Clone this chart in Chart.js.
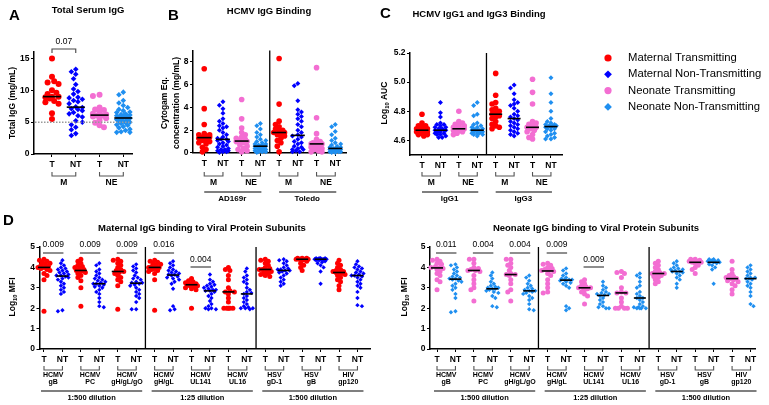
<!DOCTYPE html>
<html>
<head>
<meta charset="utf-8">
<title>IgG binding</title>
<script src="https://cdn.jsdelivr.net/npm/chart.js@4.4.1/dist/chart.umd.min.js"></script>
<style>
html,body{margin:0;padding:0;background:#fff;}
#wrap{position:relative;width:769px;height:405px;overflow:hidden;background:#fff;}
#wrap canvas{position:absolute;left:0;top:0;}
</style>
</head>
<body>
<div id="wrap">
<canvas id="cA" width="769" height="405"></canvas>
<canvas id="cB" width="769" height="405"></canvas>
<canvas id="cC" width="769" height="405"></canvas>
<canvas id="cDm" width="769" height="405"></canvas>
<canvas id="cDn" width="769" height="405"></canvas>
</div>
<script>
// ---------------- DATA ----------------
// Panel A: Total serum IgG (mg/mL)
const A_cats = ['T','NT','T','NT'];
const A_groups = ['M','NE'];
const A_yticks = [0,5,10,15];
const A_MT = [15, 12.1, 11.4, 11.2, 11.0, 10.0, 9.6, 9.4, 9.0, 9.0, 8.9, 8.7, 8.3, 8.1, 7.9, 6.4, 5.5];
const A_MNT = [13.3, 12.9, 12.5, 11.8, 10.9, 10.2, 9.8, 9.4, 8.9, 8.8, 8.6, 8.4, 8.2, 7.9, 7.4, 7.3, 7.1, 7.0, 6.8, 6.5, 6.3, 6.0, 5.8, 5.2, 5.0, 4.6, 4.2, 3.8, 3.2, 2.9];
const A_NeT = [9.3, 9.1, 7.3, 7.0, 6.9, 6.5, 6.3, 6.2, 6.0, 6.0, 5.9, 5.6, 5.3, 4.9, 4.5, 4.2];
const A_NeNT = [9.7, 9.3, 8.4, 8.0, 7.6, 7.3, 7.0, 6.8, 6.6, 6.5, 6.3, 6.2, 6.1, 6.0, 5.9, 5.9, 5.8, 5.7, 5.6, 5.5, 5.4, 5.3, 5.2, 5.1, 5.0, 4.9, 4.8, 4.6, 4.5, 4.3, 4.1, 3.9, 3.7, 3.5, 3.4, 3.4];
const A_pvalue = '0.07';

// Panel B: HCMV IgG binding (Cytogam Eq. mg/mL)
const B_cats = ['T','NT','T','NT','T','NT','T','NT'];
const B_groups = ['M','NE','M','NE'];
const B_strains = ['AD169r','Toledo'];
const B_yticks = [0,2,4,6,8];
const B_AD169r_MT = [7.4, 3.9, 2.5, 1.7, 1.6, 1.6, 1.5, 1.4, 1.4, 1.3, 1.2, 1.1, 1.0, 0.9, 0.8, 0.5, 0.3, 0.1];
const B_AD169r_MNT = [4.5, 4.2, 3.9, 3.5, 3.0, 2.8, 2.6, 2.4, 2.3, 2.2, 2.0, 1.8, 1.6, 1.4, 1.3, 1.2, 1.2, 1.1, 1.0, 0.9, 0.8, 0.7, 0.6, 0.5, 0.4, 0.3, 0.3, 0.2, 0.2, 0.1, 0.1, 0.05];
const B_AD169r_NeT = [4.7, 3.0, 2.2, 1.8, 1.6, 1.4, 1.3, 1.2, 1.1, 1.0, 1.0, 0.9, 0.7, 0.6, 0.4, 0.3, 0.2, 0.1];
const B_AD169r_NeNT = [2.6, 2.4, 2.1, 1.8, 1.6, 1.4, 1.2, 1.1, 1.0, 0.9, 0.8, 0.8, 0.7, 0.7, 0.6, 0.6, 0.6, 0.5, 0.5, 0.5, 0.4, 0.4, 0.3, 0.3, 0.3, 0.2, 0.2, 0.2, 0.1, 0.1, 0.1, 0.05];
const B_Toledo_MT = [8.3, 4.3, 2.8, 2.5, 2.3, 2.1, 2.0, 1.9, 1.8, 1.8, 1.7, 1.6, 1.5, 1.3, 1.1, 0.9, 0.6, 0.1];
const B_Toledo_MNT = [6.1, 5.9, 4.6, 3.8, 3.6, 3.4, 3.2, 3.0, 2.8, 2.5, 2.3, 2.0, 1.8, 1.6, 1.5, 1.4, 1.2, 1.0, 0.9, 0.8, 0.6, 0.5, 0.4, 0.3, 0.3, 0.2, 0.1, 0.1];
const B_Toledo_NeT = [7.5, 3.1, 1.7, 1.2, 1.0, 0.9, 0.9, 0.8, 0.8, 0.7, 0.6, 0.5, 0.4, 0.3, 0.2, 0.1, 0.1];
const B_Toledo_NeNT = [2.5, 2.3, 1.9, 1.6, 1.3, 1.1, 0.9, 0.8, 0.7, 0.6, 0.5, 0.5, 0.4, 0.4, 0.4, 0.3, 0.3, 0.3, 0.3, 0.2, 0.2, 0.2, 0.1, 0.1, 0.1, 0.05, 0.05];

// Panel C: HCMV IgG1 / IgG3 binding (log10 AUC)
const C_cats = ['T','NT','T','NT','T','NT','T','NT'];
const C_groups = ['M','NE','M','NE'];
const C_subclasses = ['IgG1','IgG3'];
const C_yticks = [4.6, 4.8, 5.0, 5.2];
const C_IgG1_MT = [4.78, 4.72, 4.70, 4.70, 4.69, 4.68, 4.68, 4.67, 4.67, 4.66, 4.66, 4.65, 4.65, 4.64, 4.64, 4.63];
const C_IgG1_MNT = [4.86, 4.79, 4.76, 4.72, 4.71, 4.71, 4.70, 4.69, 4.69, 4.68, 4.68, 4.68, 4.67, 4.67, 4.67, 4.66, 4.66, 4.66, 4.65, 4.65, 4.64, 4.64, 4.63, 4.62, 4.62];
const C_IgG1_NeT = [4.80, 4.73, 4.72, 4.71, 4.70, 4.70, 4.69, 4.68, 4.68, 4.68, 4.67, 4.67, 4.66, 4.65, 4.64];
const C_IgG1_NeNT = [4.86, 4.84, 4.78, 4.77, 4.72, 4.71, 4.70, 4.69, 4.69, 4.68, 4.68, 4.67, 4.67, 4.67, 4.67, 4.66, 4.66, 4.66, 4.65, 4.65, 4.65, 4.64, 4.64, 4.63];
const C_IgG3_MT = [5.06, 4.91, 4.86, 4.85, 4.82, 4.81, 4.80, 4.79, 4.78, 4.77, 4.76, 4.75, 4.73, 4.71, 4.70, 4.69, 4.68];
const C_IgG3_MNT = [4.98, 4.96, 4.92, 4.88, 4.86, 4.85, 4.84, 4.82, 4.80, 4.78, 4.77, 4.76, 4.75, 4.74, 4.73, 4.72, 4.71, 4.70, 4.69, 4.68, 4.67, 4.66, 4.65, 4.64, 4.63];
const C_IgG3_NeT = [5.02, 4.93, 4.85, 4.73, 4.72, 4.71, 4.70, 4.69, 4.69, 4.68, 4.67, 4.66, 4.64, 4.62, 4.61];
const C_IgG3_NeNT = [5.03, 4.92, 4.86, 4.80, 4.75, 4.73, 4.72, 4.71, 4.71, 4.70, 4.70, 4.70, 4.69, 4.69, 4.68, 4.68, 4.67, 4.66, 4.65, 4.64, 4.63, 4.62, 4.61, 4.61];

// Legend
const LEGEND_KEYS = ['MT','MNT','NeT','NeNT'];
const LEGEND_LABELS = ['Maternal Transmitting','Maternal Non-Transmitting','Neonate Transmitting','Neonate Non-Transmitting'];

// Panel D: IgG binding to viral protein subunits (log10 MFI)
const D_cats = ['T','NT','T','NT','T','NT','T','NT','T','NT','T','NT','T','NT','T','NT','T','NT'];
const D_yticks = [0,1,2,3,4,5];
const D_antigens = [['HCMV','gB'],['HCMV','PC'],['HCMV','gH/gL/gO'],['HCMV','gH/gL'],['HCMV','UL141'],['HCMV','UL16'],['HSV','gD-1'],['HSV','gB'],['HIV','gp120']];
const D_dilutions = ['1:500 dilution','1:25 dilution','1:500 dilution'];
const D_mat_pvalues = ['0.009','0.009','0.009','0.016','0.004'];
const D_neo_pvalues = ['0.011','0.004','0.004','0.009','0.009'];
const D_mat_T = [
  [4.4, 4.35, 4.3, 4.25, 4.2, 4.15, 4.1, 4.05, 4.0, 4.0, 3.95, 3.9, 3.85, 3.7, 3.6, 3.4, 1.85],
  [4.4, 4.3, 4.2, 4.1, 4.05, 4.0, 3.95, 3.9, 3.85, 3.8, 3.75, 3.7, 3.6, 3.5, 3.35, 3.0, 2.1],
  [4.4, 4.35, 4.3, 4.2, 4.1, 4.0, 3.9, 3.85, 3.8, 3.75, 3.7, 3.6, 3.5, 3.4, 3.3, 3.1, 1.95],
  [4.35, 4.3, 4.25, 4.2, 4.15, 4.1, 4.05, 4.0, 4.0, 3.95, 3.9, 3.85, 3.8, 3.7, 3.4, 1.9],
  [3.45, 3.35, 3.3, 3.25, 3.2, 3.2, 3.15, 3.15, 3.1, 3.1, 3.05, 3.0, 2.95, 2.9, 2.0],
  [4.0, 3.9, 3.85, 3.6, 3.4, 3.0, 2.85, 2.8, 2.8, 2.7, 2.5, 2.3, 2.0, 2.0, 2.0, 2.0, 2.0],
  [4.4, 4.35, 4.3, 4.2, 4.1, 4.0, 3.95, 3.9, 3.9, 3.85, 3.8, 3.75, 3.7, 3.65, 3.6, 3.55],
  [4.45, 4.45, 4.45, 4.4, 4.4, 4.4, 4.4, 4.4, 4.4, 4.35, 4.3, 4.2, 4.1, 4.0, 3.85],
  [4.35, 4.2, 4.1, 4.0, 3.9, 3.85, 3.8, 3.8, 3.75, 3.75, 3.7, 3.65, 3.6, 3.5, 3.4, 3.3, 3.1, 2.9]
];
const D_mat_NT = [
  [4.35, 4.2, 4.1, 4.0, 3.95, 3.9, 3.85, 3.8, 3.75, 3.7, 3.65, 3.6, 3.6, 3.55, 3.5, 3.45, 3.4, 3.3, 3.2, 3.1, 3.0, 2.9, 2.8, 2.7, 1.9, 1.85],
  [4.2, 4.1, 3.9, 3.8, 3.7, 3.6, 3.5, 3.45, 3.4, 3.35, 3.3, 3.25, 3.2, 3.2, 3.15, 3.1, 3.05, 3.0, 2.9, 2.8, 2.7, 2.5, 2.3, 2.1, 2.05],
  [4.15, 4.05, 3.95, 3.85, 3.75, 3.6, 3.5, 3.45, 3.4, 3.3, 3.25, 3.25, 3.2, 3.15, 3.1, 3.0, 2.9, 2.8, 2.7, 2.6, 2.5, 2.3, 1.95, 1.95],
  [4.3, 4.2, 4.1, 4.0, 3.9, 3.85, 3.8, 3.75, 3.7, 3.65, 3.65, 3.6, 3.55, 3.5, 3.45, 3.4, 3.3, 3.2, 2.95, 2.1, 1.95, 1.9],
  [3.65, 3.4, 3.3, 3.2, 3.15, 3.1, 3.05, 3.0, 2.95, 2.9, 2.9, 2.85, 2.85, 2.8, 2.7, 2.6, 2.5, 2.35, 2.2, 2.1, 2.0, 2.0, 1.95, 1.95],
  [3.95, 3.8, 3.6, 3.5, 3.4, 3.3, 3.2, 3.0, 2.9, 2.8, 2.75, 2.7, 2.6, 2.5, 2.4, 2.3, 2.2, 2.1, 2.05, 2.0, 2.0, 2.0, 1.95],
  [4.4, 4.35, 4.3, 4.2, 4.1, 4.0, 3.95, 3.9, 3.9, 3.85, 3.85, 3.8, 3.75, 3.7, 3.6, 3.5, 3.4, 3.3, 3.2, 3.1],
  [4.45, 4.45, 4.45, 4.45, 4.4, 4.4, 4.4, 4.4, 4.4, 4.4, 4.35, 4.35, 4.3, 4.25, 4.2, 4.1, 4.0, 3.8, 3.2],
  [4.3, 4.15, 4.05, 4.0, 3.95, 3.9, 3.8, 3.75, 3.7, 3.65, 3.6, 3.6, 3.55, 3.5, 3.4, 3.3, 3.2, 3.1, 3.0, 2.8, 2.5, 2.15, 2.1]
];
const D_neo_T = [
  [4.4, 4.35, 4.3, 4.2, 4.15, 4.05, 4.0, 4.0, 3.95, 3.9, 3.8, 3.7, 3.6, 3.4, 3.3, 2.9],
  [4.4, 4.4, 4.2, 4.0, 3.95, 3.9, 3.85, 3.85, 3.8, 3.6, 3.4, 3.2, 3.0, 2.9, 2.35],
  [4.4, 4.4, 4.2, 4.1, 4.0, 3.85, 3.7, 3.65, 3.65, 3.6, 3.4, 3.2, 2.9, 2.8, 2.35],
  [4.2, 4.15, 4.1, 4.0, 3.95, 3.9, 3.85, 3.85, 3.8, 3.7, 3.6, 3.4, 3.2, 3.0, 2.8, 2.75],
  [3.4, 3.3, 3.2, 3.1, 3.05, 3.0, 3.0, 3.0, 2.95, 2.9, 2.8, 2.7, 2.6, 2.2],
  [3.8, 3.75, 3.7, 3.5, 3.0, 2.8, 2.75, 2.75, 2.5, 2.3, 2.1, 2.0, 2.0, 2.0, 2.0],
  [4.3, 4.2, 4.1, 4.0, 3.9, 3.8, 3.75, 3.7, 3.7, 3.65, 3.6, 3.55, 3.5, 3.4, 3.3, 3.2],
  [4.4, 4.4, 4.35, 4.35, 4.3, 4.3, 4.25, 4.25, 4.2, 4.1, 4.0, 3.9, 3.7],
  [4.3, 3.9, 3.7, 3.6, 3.55, 3.5, 3.45, 3.45, 3.4, 3.35, 3.3, 3.2, 3.1, 2.9, 2.7]
];
const D_neo_NT = [
  [4.15, 4.1, 4.0, 3.9, 3.8, 3.7, 3.6, 3.55, 3.5, 3.45, 3.45, 3.4, 3.35, 3.3, 3.2, 3.1, 3.0, 2.9, 2.7, 2.5, 1.85, 1.8],
  [3.75, 3.6, 3.45, 3.3, 3.2, 3.1, 3.05, 3.0, 3.0, 2.95, 2.95, 2.9, 2.85, 2.8, 2.75, 2.6, 2.5, 2.1, 2.05],
  [3.6, 3.5, 3.35, 3.2, 3.1, 3.0, 2.95, 2.9, 2.85, 2.85, 2.8, 2.75, 2.7, 2.6, 2.5, 2.4, 2.2, 1.95, 1.9],
  [3.95, 3.85, 3.7, 3.6, 3.5, 3.45, 3.4, 3.4, 3.4, 3.35, 3.3, 3.25, 3.2, 3.1, 3.0, 2.1, 2.0, 1.9],
  [3.3, 3.1, 3.0, 2.9, 2.8, 2.75, 2.7, 2.7, 2.65, 2.6, 2.5, 2.4, 2.3, 2.2, 2.1, 2.05, 2.0, 2.0],
  [3.7, 3.6, 3.5, 3.3, 3.1, 3.0, 2.8, 2.7, 2.6, 2.5, 2.5, 2.4, 2.3, 2.2, 2.1, 2.05, 2.05, 2.0, 2.0, 2.0, 2.0],
  [4.3, 4.2, 4.1, 4.0, 3.95, 3.9, 3.9, 3.85, 3.8, 3.8, 3.75, 3.7, 3.6, 3.5, 3.4, 3.2, 3.0],
  [4.4, 4.4, 4.35, 4.35, 4.3, 4.3, 4.3, 4.25, 4.25, 4.2, 4.15, 4.1, 4.0, 3.9, 3.2],
  [4.1, 4.0, 3.9, 3.8, 3.7, 3.6, 3.5, 3.5, 3.45, 3.45, 3.4, 3.3, 3.2, 3.1, 3.0, 2.8, 2.6, 2.2, 2.1]
];

// ---------------- STYLE / LAYOUT ----------------
const W = 769, H = 405, YW = 20, XH = 14;
const FAM = '"Liberation Sans", Arial, Helvetica, sans-serif';
Chart.defaults.font.family = FAM;
const SERIES = {
  MT:   {color:'#ff0000', style:'circle'},
  MNT:  {color:'#0000ff', style:'rectRot'},
  NeT:  {color:'#f36ed2', style:'circle'},
  NeNT: {color:'#1f8ff0', style:'rectRot'}
};

function font(size, bold){ return (bold ? 'bold ' : '') + size + 'px ' + FAM; }
function median(arr){ const s = [...arr].sort((a,b)=>a-b); const n = s.length; return n % 2 ? s[(n-1)/2] : (s[n/2-1] + s[n/2]) / 2; }
function txt(ctx, s, x, y, size, bold, align){
  ctx.font = font(size, bold); ctx.fillStyle = '#000';
  ctx.textAlign = align || 'center'; ctx.textBaseline = 'middle';
  ctx.fillText(s, x, y);
}
function seg(ctx, x1, y1, x2, y2, color, w, dash){
  ctx.save(); ctx.beginPath(); ctx.strokeStyle = color; ctx.lineWidth = w;
  ctx.setLineDash(dash || []); ctx.moveTo(x1, y1); ctx.lineTo(x2, y2); ctx.stroke(); ctx.restore();
}
function underBracket(ctx, x1, x2, yTop, yBot){
  ctx.save(); ctx.beginPath(); ctx.strokeStyle = '#555'; ctx.lineWidth = 1.1;
  ctx.moveTo(x1, yTop); ctx.lineTo(x1, yBot); ctx.lineTo(x2, yBot); ctx.lineTo(x2, yTop); ctx.stroke(); ctx.restore();
}
function rotText(ctx, parts, x, y, size, bold){
  ctx.save(); ctx.translate(x, y); ctx.rotate(-Math.PI/2);
  ctx.textBaseline = 'middle'; ctx.textAlign = 'left'; ctx.fillStyle = '#000';
  const fN = font(size, bold), fS = font(size*0.68, bold);
  let total = 0; const ws = [];
  parts.forEach(pt => { ctx.font = pt.sub ? fS : fN; const w = ctx.measureText(pt.t).width; ws.push(w); total += w; });
  let cx = -total/2;
  parts.forEach((pt,i) => { ctx.font = pt.sub ? fS : fN; ctx.fillText(pt.t, cx, pt.sub ? size*0.32 : 0); cx += ws[i]; });
  ctx.restore();
}
function marker(ctx, style, x, y, r, color){
  ctx.save(); ctx.fillStyle = color; ctx.beginPath();
  if (style === 'circle') ctx.arc(x, y, r, 0, Math.PI*2);
  else { ctx.moveTo(x, y-r); ctx.lineTo(x+r, y); ctx.lineTo(x, y+r); ctx.lineTo(x-r, y); ctx.closePath(); }
  ctx.fill(); ctx.restore();
}

// deterministic beeswarm layout in pixel space
function swarm(chart, groups, p){
  const xs = chart.scales.x, ys = chart.scales.y;
  groups.forEach((g, gi) => {
    const ds = chart.data.datasets[gi];
    const cx = xs.getPixelForValue(g.pos);
    const order = g.values.map((v,i)=>i).sort((a,b)=>g.values[b]-g.values[a]);
    const placed = []; const out = new Array(g.values.length);
    order.forEach((i, n) => {
      const py = ys.getPixelForValue(g.values[i]);
      let bestOff = 0, bestScore = -1, done = false;
      for (let k = 0; k * p.step <= p.half + 0.01 && !done; k++) {
        const sgn = n % 2 ? -1 : 1;
        const cands = k === 0 ? [0] : [sgn*k*p.step, -sgn*k*p.step];
        for (const off of cands) {
          let md = Infinity;
          for (const q of placed) { const d = Math.hypot(off - q.o, py - q.y); if (d < md) md = d; }
          if (md >= p.minD) { bestOff = off; done = true; break; }
          if (md > bestScore) { bestScore = md; bestOff = off; }
        }
      }
      placed.push({o: bestOff, y: py});
      out[i] = {x: xs.getValueForPixel(cx + bestOff), y: g.values[i]};
    });
    ds.data = out;
  });
  chart.update('none');
}

function buildPanel(id, p){
  const groups = p.groups;
  const datasets = groups.map(g => ({
    data: g.values.map(v => ({x: g.pos, y: v})),
    pointStyle: SERIES[g.series].style,
    backgroundColor: SERIES[g.series].color,
    borderColor: SERIES[g.series].color,
    pointBorderWidth: 0,
    pointRadius: SERIES[g.series].style === 'circle' ? p.rC : p.rD,
    pointHoverRadius: 0,
    showLine: false,
    clip: false
  }));
  const axisCommon = {
    grid: {display: true, drawOnChartArea: false, drawTicks: true, tickLength: 3, color: '#000', lineWidth: 1},
    border: {display: true, color: '#000', width: 1.5}
  };
  const deco = {
    id: 'deco_' + id,
    afterDatasetsDraw(chart){
      const ctx = chart.ctx;
      const X = v => chart.scales.x.getPixelForValue(v), Y = v => chart.scales.y.getPixelForValue(v);
      groups.forEach(g => {
        const m = median(g.values);
        seg(ctx, X(g.pos) - p.medHalf, Y(m), X(g.pos) + p.medHalf, Y(m), '#000', 1.6);
      });
    },
    afterDraw(chart){
      const ctx = chart.ctx;
      const X = v => chart.scales.x.getPixelForValue(v), Y = v => chart.scales.y.getPixelForValue(v);
      p.decorate(ctx, X, Y, chart.chartArea);
    }
  };
  const chart = new Chart(document.getElementById(id), {
    type: 'scatter',
    data: {datasets},
    options: {
      responsive: false, animation: false, devicePixelRatio: 1, events: [],
      layout: {autoPadding: false, padding: {left: p.area.l - YW, top: p.area.t, right: W - p.area.r, bottom: H - p.area.b - XH}},
      plugins: {legend: {display: false}, tooltip: {enabled: false}},
      scales: {
        x: Object.assign({
          type: 'linear', position: 'bottom', min: p.xmin, max: p.xmax,
          afterFit(s){ s.height = XH; s.paddingLeft = 0; s.paddingRight = 0; s.paddingTop = 0; s.paddingBottom = 0; },
          afterBuildTicks(s){ s.ticks = p.cats.map((c, i) => ({value: i + 1})); },
          ticks: {callback: (v, i) => p.cats[i], autoSkip: false, maxRotation: 0, minRotation: 0, color: '#000', font: {size: 8.5, weight: 'bold'}, padding: 2.5}
        }, axisCommon),
        y: Object.assign({
          type: 'linear', position: 'left', min: p.ymin, max: p.ymax,
          afterFit(s){ s.width = YW; s.paddingTop = 0; s.paddingBottom = 0; s.paddingLeft = 0; s.paddingRight = 0; },
          afterBuildTicks(s){ s.ticks = p.yticks.map(v => ({value: v})); },
          ticks: {callback: v => p.yfmt ? p.yfmt(v) : String(v), autoSkip: false, color: '#000', font: {size: 8.5, weight: 'bold'}, padding: 1.5}
        }, axisCommon)
      }
    },
    plugins: [deco]
  });
  swarm(chart, groups, p);
  return chart;
}

// ---------------- PANEL A ----------------
buildPanel('cA', {
  area: {l: 34, t: 52, r: 132, b: 154},
  xmin: 0.243, xmax: 4.366, ymin: 0, ymax: 16, yticks: A_yticks, cats: A_cats,
  rC: 3, rD: 2.8, medHalf: 9, step: 2.2, half: 7.5, minD: 4.6,
  groups: [
    {pos: 1, series: 'MT', values: A_MT}, {pos: 2, series: 'MNT', values: A_MNT},
    {pos: 3, series: 'NeT', values: A_NeT}, {pos: 4, series: 'NeNT', values: A_NeNT}
  ],
  decorate(ctx, X, Y, a){
    txt(ctx, 'A', 9, 16, 15, true, 'left');
    txt(ctx, 'Total Serum IgG', 88, 10, 9.5, true);
    rotText(ctx, [{t: 'Total IgG (mg/mL)'}], 13, 103, 8.5, true);
    seg(ctx, a.left + 1, Y(5), a.right, Y(5), '#9a9a9a', 1.5, [1.5, 1.5]);
    ctx.save(); ctx.beginPath(); ctx.strokeStyle = '#444'; ctx.lineWidth = 1.1;
    ctx.moveTo(X(1), 53); ctx.lineTo(X(1), 49); ctx.lineTo(X(2), 49); ctx.lineTo(X(2), 53); ctx.stroke(); ctx.restore();
    txt(ctx, A_pvalue, (X(1) + X(2)) / 2, 42, 8.5, false);
    A_groups.forEach((gname, i) => {
      underBracket(ctx, X(2*i+1), X(2*i+2), 172, 176);
      txt(ctx, gname, (X(2*i+1) + X(2*i+2)) / 2, 183, 8.5, true);
    });
  }
});

// ---------------- PANEL B ----------------
buildPanel('cB', {
  area: {l: 193, t: 50.6, r: 346.5, b: 153},
  xmin: 0.4, xmax: 8.6, ymin: 0, ymax: 9, yticks: B_yticks, cats: B_cats,
  rC: 2.8, rD: 2.5, medHalf: 7, step: 1.8, half: 6.3, minD: 3.9,
  groups: [
    {pos: 1, series: 'MT', values: B_AD169r_MT}, {pos: 2, series: 'MNT', values: B_AD169r_MNT},
    {pos: 3, series: 'NeT', values: B_AD169r_NeT}, {pos: 4, series: 'NeNT', values: B_AD169r_NeNT},
    {pos: 5, series: 'MT', values: B_Toledo_MT}, {pos: 6, series: 'MNT', values: B_Toledo_MNT},
    {pos: 7, series: 'NeT', values: B_Toledo_NeT}, {pos: 8, series: 'NeNT', values: B_Toledo_NeNT}
  ],
  decorate(ctx, X, Y, a){
    txt(ctx, 'B', 168, 16, 15, true, 'left');
    txt(ctx, 'HCMV IgG Binding', 269, 11, 9.5, true);
    rotText(ctx, [{t: 'Cytogam Eq.'}], 165, 103, 8.5, true);
    rotText(ctx, [{t: 'concentration (mg/mL)'}], 177, 103, 8.5, true);
    seg(ctx, X(4.5), a.top, X(4.5), a.bottom, '#000', 1.3);
    B_groups.forEach((gname, i) => {
      underBracket(ctx, X(2*i+1), X(2*i+2), 172, 176);
      txt(ctx, gname, (X(2*i+1) + X(2*i+2)) / 2, 183, 8.5, true);
    });
    B_strains.forEach((s, i) => {
      seg(ctx, X(4*i+1), 192, X(4*i+4) + 1, 192, '#000', 1.1);
      txt(ctx, s, (X(4*i+1) + X(4*i+4)) / 2, 199, 8, true);
    });
  }
});

// ---------------- PANEL C ----------------
buildPanel('cC', {
  area: {l: 410, t: 53, r: 562, b: 155},
  xmin: 0.349, xmax: 8.6, ymin: 4.5, ymax: 5.2, yticks: C_yticks, yfmt: v => v.toFixed(1), cats: C_cats,
  rC: 2.8, rD: 2.5, medHalf: 6.5, step: 1.8, half: 6.3, minD: 3.7,
  groups: [
    {pos: 1, series: 'MT', values: C_IgG1_MT}, {pos: 2, series: 'MNT', values: C_IgG1_MNT},
    {pos: 3, series: 'NeT', values: C_IgG1_NeT}, {pos: 4, series: 'NeNT', values: C_IgG1_NeNT},
    {pos: 5, series: 'MT', values: C_IgG3_MT}, {pos: 6, series: 'MNT', values: C_IgG3_MNT},
    {pos: 7, series: 'NeT', values: C_IgG3_NeT}, {pos: 8, series: 'NeNT', values: C_IgG3_NeNT}
  ],
  decorate(ctx, X, Y, a){
    txt(ctx, 'C', 380, 14, 15, true, 'left');
    txt(ctx, 'HCMV IgG1 and IgG3 Binding', 479, 14, 9.5, true);
    rotText(ctx, [{t: 'Log'}, {t: '10', sub: true}, {t: ' AUC'}], 385, 103, 8.5, true);
    seg(ctx, X(4.5), a.top, X(4.5), a.bottom, '#000', 1.3);
    C_groups.forEach((gname, i) => {
      underBracket(ctx, X(2*i+1), X(2*i+2), 172, 176);
      txt(ctx, gname, (X(2*i+1) + X(2*i+2)) / 2, 183, 8.5, true);
    });
    C_subclasses.forEach((s, i) => {
      seg(ctx, X(4*i+1), 192, X(4*i+4) + 1, 192, '#000', 1.1);
      txt(ctx, s, (X(4*i+1) + X(4*i+4)) / 2, 199, 8, true);
    });
    LEGEND_KEYS.forEach((k, i) => {
      const y = 58 + i * 16.3;
      const s = SERIES[k];
      marker(ctx, s.style, 608, y, s.style === 'circle' ? 3.6 : 3.9, s.color);
      txt(ctx, LEGEND_LABELS[i], 628, y, 11.3, false, 'left');
    });
  }
});

// ---------------- PANEL D ----------------
function dGroups(tArr, ntArr, tKey, ntKey){
  const out = [];
  tArr.forEach((vals, g) => {
    out.push({pos: 2*g+1, series: tKey, values: vals});
    out.push({pos: 2*g+2, series: ntKey, values: ntArr[g]});
  });
  return out;
}
function dDecorate(title, titleX, yTitleX, pvals){
  return function(ctx, X, Y, a){
    txt(ctx, title, titleX, 228, 9.5, true);
    rotText(ctx, [{t: 'Log'}, {t: '10', sub: true}, {t: ' MFI'}], yTitleX, 297, 8.5, true);
    seg(ctx, X(6.5), a.top, X(6.5), a.bottom, '#000', 1.3);
    seg(ctx, X(12.5), a.top, X(12.5), a.bottom, '#000', 1.3);
    pvals.forEach((pv, g) => {
      const row = g === 4 ? 1 : 0;
      const ly = row ? 267 : 253, ty = row ? 259.5 : 245;
      const x1 = X(2*g+1) - 1, x2 = X(2*g+2) + 1;
      seg(ctx, x1, ly, x2, ly, '#444', 1.2);
      txt(ctx, pv, (x1 + x2) / 2, ty, 8.5, false);
    });
    D_antigens.forEach((lab, g) => {
      const x1 = X(2*g+1), x2 = X(2*g+2), cx = (x1 + x2) / 2;
      underBracket(ctx, x1, x2, 366, 370);
      txt(ctx, lab[0], cx, 375.5, 7, true);
      txt(ctx, lab[1], cx, 382.5, 7, true);
    });
    D_dilutions.forEach((d, i) => {
      const x1 = X(6*i+1) - 3, x2 = X(6*i+6) + 6;
      seg(ctx, x1, 391, x2, 391, '#000', 1.1);
      txt(ctx, d, (x1 + x2) / 2, 398, 7.5, true);
    });
  };
}

buildPanel('cDm', {
  area: {l: 39.5, t: 247, r: 370, b: 349},
  xmin: 0.756, xmax: 18.68, ymin: 0, ymax: 5, yticks: D_yticks, cats: D_cats,
  rC: 2.5, rD: 2.2, medHalf: 6, step: 1.5, half: 6, minD: 3.4,
  groups: dGroups(D_mat_T, D_mat_NT, 'MT', 'MNT'),
  decorate: (function(){
    const f = dDecorate('Maternal IgG binding to Viral Protein Subunits', 202, 13, D_mat_pvalues);
    return function(ctx, X, Y, a){ txt(ctx, 'D', 3, 221, 15, true, 'left'); f(ctx, X, Y, a); };
  })()
});

buildPanel('cDn', {
  area: {l: 430, t: 247, r: 755.5, b: 349},
  xmin: 0.62, xmax: 18.27, ymin: 0, ymax: 5, yticks: D_yticks, cats: D_cats,
  rC: 2.5, rD: 2.2, medHalf: 6, step: 1.5, half: 6, minD: 3.4,
  groups: dGroups(D_neo_T, D_neo_NT, 'NeT', 'NeNT'),
  decorate: dDecorate('Neonate IgG binding to Viral Protein Subunits', 596, 405, D_neo_pvalues)
});
</script>
</body>
</html>
